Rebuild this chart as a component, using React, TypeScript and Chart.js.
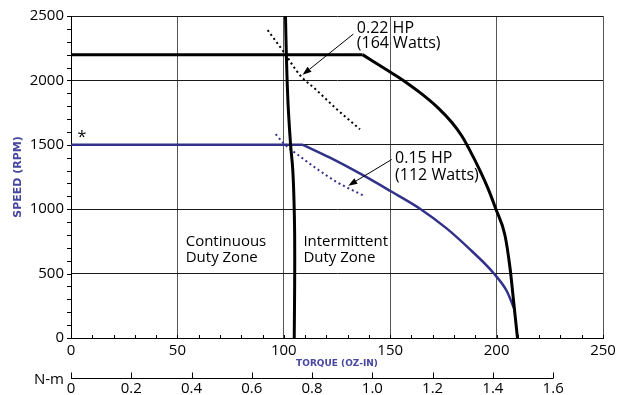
import React, { useEffect, useRef } from 'react';
import { Chart, registerables } from 'chart.js';

Chart.register(...registerables);

// ---------- data ----------
const torqueTicks = [0, 50, 100, 150, 200, 250];
const speedTicks = [0, 500, 1000, 1500, 2000, 2500];
const nmTicks = [0, 0.2, 0.4, 0.6, 0.8, 1.0, 1.2, 1.4, 1.6];
const NM_PER_OZIN = 0.00706155;

// 0.22 HP motor: flat speed segment and intermittent curve (black)
const hpFlatTorque = [0, 137];
const hpFlatSpeed = [2200, 2200];
const hpCurveTorque = [137, 150, 157, 164.8, 172.6, 178.9, 183.6, 187, 192.2, 196, 199.6, 203.9, 206.3, 207.8, 209.8];
const hpCurveSpeed = [2200, 2065, 1990, 1895, 1785, 1675, 1570, 1470, 1300, 1160, 1004, 800, 545, 316, 0];

// continuous duty boundary (black, near vertical)
const contTorque = [100.8, 101.2, 102.0, 103.2, 104.2, 104.8, 105.1, 105.1, 104.9];
const contSpeed = [2500, 2200, 1820, 1500, 1310, 1060, 800, 420, 0];

// 0.15 HP motor (blue)
const lpFlatTorque = [0, 109];
const lpFlatSpeed = [1500, 1500];
const lpCurveTorque = [109, 121.7, 137.4, 149.9, 164, 176.5, 187.5, 198.4, 204.7, 208.6];
const lpCurveSpeed = [1500, 1400, 1262, 1143, 1004, 851, 688, 507, 367, 214];

// constant power lines (dotted)
const hp22Torque = [92.4, 100, 107.6, 115, 125, 135.8];
const hp22Speed = [2390, 2220, 2040, 1930, 1775, 1620];
const hp15Torque = [96.2, 100, 107.6, 115, 125, 137.4];
const hp15Speed = [1583, 1510, 1410, 1320, 1210, 1106];

const MINOR_TORQUE_STEP = 10;
const MINOR_SPEED_STEP = 100;

const BLACK = '#000000';
const BLUE = '#313189';
const BLUE_TEXT = '#4646a0';
const FONT = '"Open Sans", "DejaVu Sans", sans-serif';

const pts = (xs: number[], ys: number[]) => xs.map((v, i) => ({ x: v, y: ys[i] }));

function drawArrow(ctx: CanvasRenderingContext2D, x1: number, y1: number, x2: number, y2: number) {
  const ang = Math.atan2(y2 - y1, x2 - x1);
  const len = 9;
  const half = 3.2;
  const bx = x2 - len * Math.cos(ang);
  const by = y2 - len * Math.sin(ang);
  ctx.beginPath();
  ctx.moveTo(x1, y1);
  ctx.lineTo(bx, by);
  ctx.stroke();
  ctx.beginPath();
  ctx.moveTo(x2, y2);
  ctx.lineTo(bx + half * Math.sin(ang), by - half * Math.cos(ang));
  ctx.lineTo(bx - half * Math.sin(ang), by + half * Math.cos(ang));
  ctx.closePath();
  ctx.fill();
}

const overlayPlugin = {
  id: 'overlay',
  afterDraw(chart: any) {
    const ctx: CanvasRenderingContext2D = chart.ctx;
    const xs = chart.scales.x;
    const ys = chart.scales.y;
    const x2 = chart.scales.x2;
    const X = (v: number) => xs.getPixelForValue(v);
    const Y = (v: number) => ys.getPixelForValue(v);
    ctx.save();

    // minor ticks
    ctx.strokeStyle = BLACK;
    ctx.lineWidth = 1;
    ctx.beginPath();
    for (let v = 0; v <= 250; v += MINOR_TORQUE_STEP) {
      const px = Math.round(X(v)) + 0.5;
      ctx.moveTo(px, ys.bottom);
      ctx.lineTo(px, ys.bottom - 3);
    }
    for (let v = 0; v <= 2500; v += MINOR_SPEED_STEP) {
      const py = Math.round(Y(v)) + 0.5;
      ctx.moveTo(xs.left - 4, py);
      ctx.lineTo(xs.left, py);
    }
    ctx.stroke();

    // secondary N-m axis line and ticks
    const yLine = Math.round(x2.top + 9) + 0.5;
    const nmMax = nmTicks[nmTicks.length - 1];
    ctx.beginPath();
    ctx.moveTo(x2.getPixelForValue(0), yLine);
    ctx.lineTo(x2.getPixelForValue(nmMax), yLine);
    for (const t of nmTicks) {
      const px = Math.round(x2.getPixelForValue(t)) + 0.5;
      ctx.moveTo(px, yLine);
      ctx.lineTo(px, yLine - 6);
    }
    ctx.stroke();
    ctx.fillStyle = BLACK;
    ctx.font = '15px ' + FONT;
    ctx.textAlign = 'right';
    ctx.textBaseline = 'middle';
    ctx.fillText('N-m', xs.left - 7, yLine + 1);

    // annotations
    ctx.textAlign = 'left';
    ctx.textBaseline = 'alphabetic';
    ctx.font = '16px ' + FONT;
    ctx.fillText('0.22 HP', X(134.3), Y(2368));
    ctx.fillText('(164 Watts)', X(134.3), Y(2250));
    ctx.fillText('0.15 HP', X(152.3), Y(1361));
    ctx.fillText('(112 Watts)', X(152.3), Y(1224));
    ctx.font = '15px ' + FONT;
    ctx.fillText('Continuous', X(53.9), Y(711));
    ctx.fillText('Duty Zone', X(53.9), Y(589));
    ctx.fillText('Intermittent', X(109.2), Y(711));
    ctx.fillText('Duty Zone', X(109.2), Y(589));
    ctx.textAlign = 'center';
    ctx.font = '16px ' + FONT;
    ctx.fillText('*', X(5.1), Y(1520));

    ctx.lineWidth = 1;
    drawArrow(ctx, X(132.7), Y(2360), X(108.8), Y(2043));
    drawArrow(ctx, X(150.7), Y(1386), X(130.3), Y(1183));

    ctx.restore();
  },
};

const solid = (label: string, data: any[], color: string, width: number, monotone: boolean) => ({
  label,
  data,
  borderColor: color,
  backgroundColor: color,
  borderWidth: width,
  pointRadius: 0,
  tension: 0.4,
  cubicInterpolationMode: monotone ? 'monotone' : 'default',
  fill: false,
});

const dotted = (label: string, data: any[], color: string) => ({
  label,
  data,
  borderColor: color,
  backgroundColor: color,
  borderWidth: 2,
  borderDash: [2, 3],
  pointRadius: 0,
  tension: 0.4,
  cubicInterpolationMode: 'monotone',
  fill: false,
});

export default function App() {
  const ref = useRef<HTMLCanvasElement | null>(null);

  useEffect(() => {
    if (!ref.current) return;
    const chart = new Chart(ref.current, {
      type: 'line',
      data: {
        datasets: [
          solid('0.22 HP flat', pts(hpFlatTorque, hpFlatSpeed), BLACK, 3, false),
          solid('0.22 HP curve', pts(hpCurveTorque, hpCurveSpeed), BLACK, 3, true),
          solid('Continuous limit', pts(contTorque, contSpeed), BLACK, 3, false),
          solid('0.15 HP flat', pts(lpFlatTorque, lpFlatSpeed), BLUE, 2.5, false),
          solid('0.15 HP curve', pts(lpCurveTorque, lpCurveSpeed), BLUE, 2.5, true),
          dotted('0.22 HP power', pts(hp22Torque, hp22Speed), BLACK),
          dotted('0.15 HP power', pts(hp15Torque, hp15Speed), BLUE),
        ] as any,
      },
      options: {
        responsive: false,
        animation: false,
        layout: { padding: { top: 11, right: 26, left: 0, bottom: 0 } },
        plugins: { legend: { display: false }, tooltip: { enabled: false } },
        scales: {
          x: {
            type: 'linear',
            position: 'bottom',
            min: 0,
            max: 250,
            afterBuildTicks: (s: any) => { s.ticks = torqueTicks.map((v) => ({ value: v })); },
            afterFit: (s: any) => { s.height = 31; },
            ticks: {
              color: BLACK,
              font: { family: FONT, size: 15 },
              padding: 4,
              autoSkip: false,
              maxRotation: 0,
              callback: (v: any) => String(v),
            },
            grid: { color: '#555555', lineWidth: 1, drawTicks: false },
            border: { display: true, color: BLACK, width: 1 },
            title: {
              display: true,
              text: 'TORQUE (OZ-IN)',
              color: BLUE_TEXT,
              font: { family: '"DejaVu Sans", sans-serif', size: 9, weight: 'bold' },
              padding: { top: 0, bottom: 0 },
            },
          },
          x2: {
            type: 'linear',
            position: 'bottom',
            min: 0,
            max: 250 * NM_PER_OZIN,
            afterBuildTicks: (s: any) => { s.ticks = nmTicks.map((v) => ({ value: v })); },
            afterFit: (s: any) => { s.height = 26; },
            ticks: {
              color: BLACK,
              font: { family: FONT, size: 15 },
              padding: 11,
              autoSkip: false,
              maxRotation: 0,
              callback: (v: any) => (Number(v) === 0 ? '0' : Number(v).toFixed(1)),
            },
            grid: { display: false, drawTicks: false },
            border: { display: false },
          },
          y: {
            type: 'linear',
            min: 0,
            max: 2500,
            afterBuildTicks: (s: any) => { s.ticks = speedTicks.map((v) => ({ value: v })); },
            afterFit: (s: any) => { s.width = 71; },
            ticks: {
              color: BLACK,
              font: { family: FONT, size: 15 },
              padding: 7,
              callback: (v: any) => String(v),
            },
            grid: { color: '#1a1a1a', lineWidth: 1, drawTicks: false },
            border: { display: true, color: BLACK, width: 1 },
            title: {
              display: true,
              text: 'SPEED (RPM)',
              color: BLUE_TEXT,
              font: { family: '"DejaVu Sans", sans-serif', size: 11, weight: 'bold' },
              padding: { top: 12, bottom: 0 },
            },
          },
        },
      } as any,
      plugins: [overlayPlugin],
    });
    return () => chart.destroy();
  }, []);

  return (
    <div style={{ position: 'fixed', left: 0, top: 0, width: 629, height: 395, background: '#ffffff' }}>
      <canvas ref={ref} width={629} height={395} style={{ display: 'block' }} />
    </div>
  );
}
